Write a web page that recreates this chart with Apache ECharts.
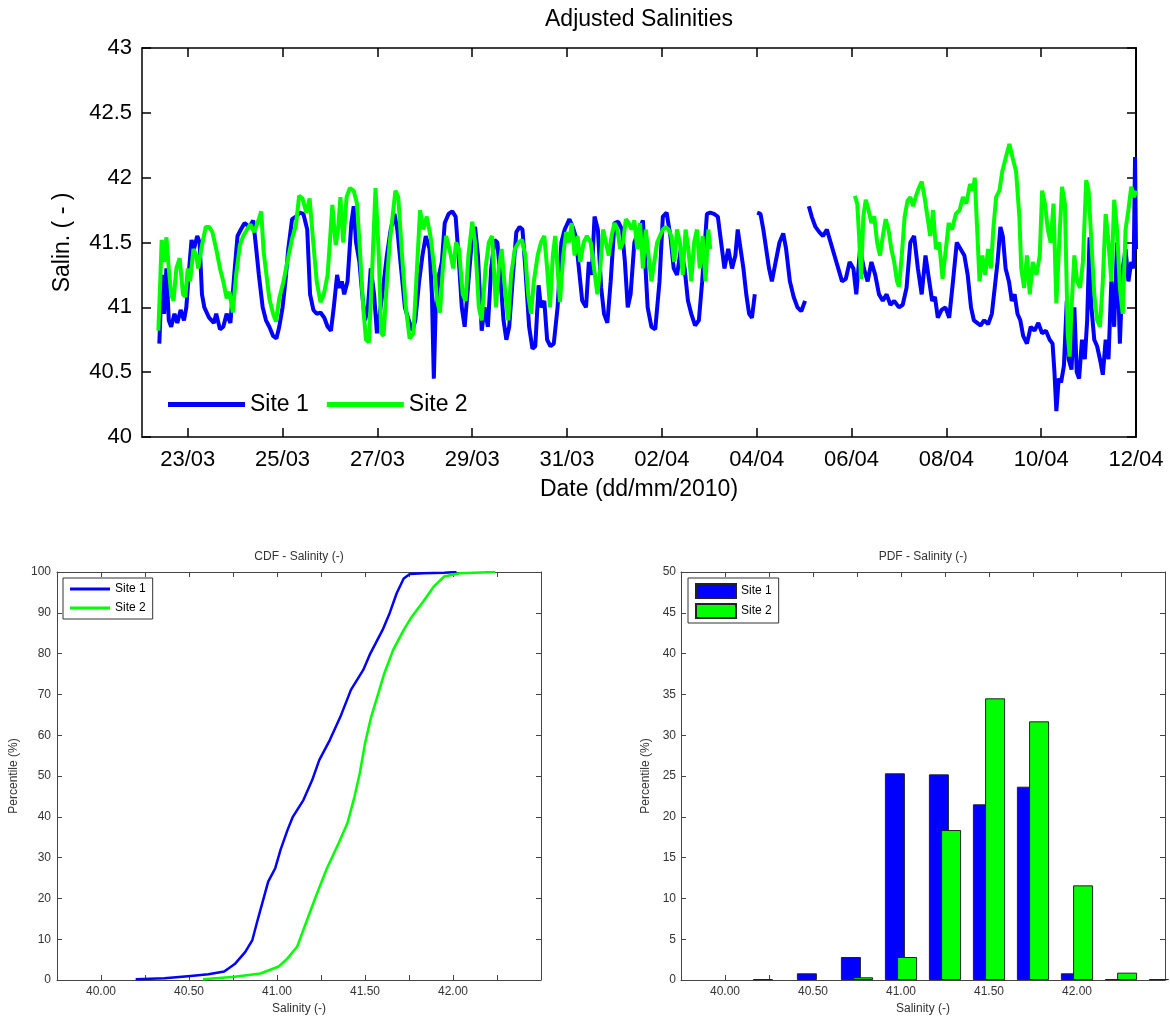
<!DOCTYPE html>
<html><head><meta charset="utf-8">
<script src="https://cdn.jsdelivr.net/npm/echarts@6/dist/echarts.min.js"></script>
<style>
html,body{margin:0;padding:0;background:#fff;overflow:hidden}
#top{position:absolute;left:0;top:0;width:1170px;height:520px}
#cdf{position:absolute;left:0;top:520px;width:585px;height:501px}
#pdf{position:absolute;left:585px;top:520px;width:585px;height:501px}
</style></head><body>
<div id="top"></div><div id="cdf"></div><div id="pdf"></div>
<script>
// ---- time series: [day of March 2010 (fractional), salinity] ----
const site1Series = [
[22.40,40.72],[22.43,41.0],[22.47,41.25],[22.50,40.95],[22.55,41.3],[22.60,40.9],[22.65,40.85],[22.72,40.95],[22.78,40.88],[22.85,40.98],[22.92,40.9],[22.97,41.0],
[23.03,41.3],[23.08,41.52],[23.13,41.45],[23.20,41.55],[23.25,41.5],[23.30,41.1],[23.35,41.0],[23.45,40.92],[23.55,40.88],[23.60,40.95],[23.68,40.83],[23.75,40.85],[23.82,40.95],[23.90,40.88],[23.98,41.25],
[24.05,41.55],[24.12,41.6],[24.20,41.65],[24.30,41.62],[24.38,41.67],[24.43,41.5],[24.50,41.25],[24.58,41.0],[24.65,40.9],[24.72,40.85],[24.80,40.78],[24.87,40.76],[24.93,40.85],
[25.00,41.0],[25.06,41.2],[25.12,41.45],[25.20,41.68],[25.28,41.7],[25.36,41.73],[25.44,41.72],[25.52,41.6],[25.58,41.1],[25.65,40.98],[25.72,40.95],[25.80,40.96],[25.88,40.92],[25.95,40.85],
[26.02,40.82],[26.08,41.0],[26.15,41.25],[26.20,41.15],[26.25,41.2],[26.30,41.1],[26.37,41.2],[26.45,41.65],[26.50,41.78],[26.55,41.5],[26.62,41.35],[26.68,41.1],[26.74,40.9],[26.80,41.0],[26.86,41.3],[26.93,41.1],[26.99,40.8],
[27.05,40.95],[27.12,41.15],[27.20,41.4],[27.28,41.6],[27.36,41.72],[27.42,41.6],[27.50,41.3],[27.58,41.0],[27.66,40.9],[27.74,40.82],[27.80,40.9],[27.88,41.2],[27.95,41.4],
[28.02,41.55],[28.10,41.45],[28.15,41.1],[28.19,40.45],[28.23,41.0],[28.30,41.25],[28.36,41.35],[28.42,41.65],[28.50,41.72],[28.58,41.74],[28.65,41.7],[28.72,41.35],[28.78,41.0],[28.84,40.85],[28.92,41.2],
[29.00,41.55],[29.06,41.62],[29.12,41.4],[29.20,40.82],[29.26,41.0],[29.33,40.85],[29.40,41.3],[29.47,41.52],[29.53,41.5],[29.60,41.2],[29.66,40.9],[29.72,40.75],[29.78,40.85],[29.86,41.25],[29.93,41.58],
[30.00,41.62],[30.06,41.6],[30.12,41.3],[30.20,40.85],[30.27,40.68],[30.33,40.7],[30.40,41.17],[30.45,41.0],[30.52,41.05],[30.58,40.75],[30.65,40.7],[30.72,40.72],[30.80,41.0],[30.88,41.5],[30.95,41.6],
[31.05,41.68],[31.12,41.62],[31.18,41.55],[31.25,41.3],[31.32,41.05],[31.40,41.0],[31.46,41.35],[31.52,41.25],[31.58,41.7],[31.65,41.6],[31.72,41.15],[31.78,40.95],[31.85,40.88],[31.92,41.2],
[32.00,41.65],[32.08,41.66],[32.16,41.6],[32.22,41.35],[32.28,41.0],[32.34,41.1],[32.42,41.5],[32.52,41.6],[32.60,41.67],[32.70,41.0],[32.78,40.85],[32.86,40.83],[32.95,41.2],
[33.02,41.7],[33.10,41.73],[33.18,41.55],[33.25,41.3],[33.32,41.25],[33.40,41.45],[33.48,41.3],[33.55,41.05],[33.62,40.95],[33.70,40.86],[33.78,40.9],[33.85,41.2],[33.95,41.72],
[34.02,41.73],[34.10,41.72],[34.18,41.7],[34.25,41.5],[34.32,41.3],[34.40,41.45],[34.48,41.3],[34.55,41.4],[34.60,41.6],[34.66,41.45],[34.72,41.3],[34.78,41.1],[34.84,40.95],[34.90,40.92],[34.96,41.1],
[34.98,'-'],
[35.01,41.73],[35.08,41.72],[35.14,41.6],[35.20,41.45],[35.26,41.3],[35.32,41.2],[35.40,41.35],[35.48,41.5],[35.56,41.57],[35.62,41.45],[35.70,41.2],[35.78,41.08],[35.86,41.0],[35.94,40.97],[36.02,41.05],
[36.06,'-'],
[36.10,41.78],[36.16,41.7],[36.24,41.62],[36.32,41.58],[36.40,41.55],[36.48,41.6],[36.56,41.5],[36.64,41.4],[36.72,41.3],[36.80,41.2],[36.88,41.22],[36.96,41.35],
[37.04,41.3],[37.10,41.1],[37.18,41.45],[37.26,41.3],[37.34,41.2],[37.42,41.35],[37.50,41.25],[37.58,41.1],[37.66,41.05],[37.74,41.1],[37.82,41.02],[37.90,41.05],
[38.00,41.0],[38.08,41.02],[38.16,41.15],[38.24,41.5],[38.32,41.55],[38.40,41.3],[38.48,41.1],[38.56,41.4],[38.64,41.2],[38.70,41.05],[38.76,41.08],[38.82,40.92],[38.90,40.98],[38.98,41.0],
[39.06,40.92],[39.14,41.2],[39.22,41.5],[39.30,41.45],[39.38,41.4],[39.45,41.25],[39.52,41.0],[39.58,40.9],[39.65,40.88],[39.72,40.86],[39.80,40.9],[39.88,40.87],[39.96,40.95],
[40.02,41.15],[40.08,41.35],[40.14,41.62],[40.19,41.55],[40.25,41.3],[40.32,41.2],[40.38,41.05],[40.44,41.1],[40.50,40.95],[40.56,40.9],[40.62,40.78],[40.70,40.72],[40.78,40.85],[40.86,40.82],[40.94,40.88],
[41.02,40.8],[41.10,40.82],[41.18,40.75],[41.24,40.72],[41.28,40.5],[41.32,40.2],[41.37,40.45],[41.42,40.42],[41.48,40.55],[41.54,41.05],[41.58,40.6],[41.64,40.52],[41.70,41.0],[41.75,40.5],[41.80,40.45],[41.86,40.75],[41.92,40.6],[41.97,40.9],
[42.02,41.54],[42.06,41.0],[42.12,40.75],[42.18,40.7],[42.24,40.6],[42.30,40.48],[42.36,40.75],[42.42,40.6],[42.48,41.2],[42.54,40.85],[42.60,41.5],[42.66,40.72],[42.72,41.3],[42.78,41.45],[42.84,41.2],[42.90,41.35],[42.95,41.3],[42.98,42.16],[43.00,41.45]
];
const site2Series = [
[22.38,40.82],[22.42,41.2],[22.45,41.52],[22.50,41.35],[22.55,41.54],[22.60,41.3],[22.65,41.1],[22.70,41.05],[22.76,41.3],[22.83,41.38],[22.90,41.1],[22.95,41.08],
[23.00,41.3],[23.05,41.2],[23.12,41.45],[23.18,41.4],[23.22,41.3],[23.30,41.48],[23.38,41.62],[23.45,41.62],[23.52,41.58],[23.60,41.45],[23.68,41.3],[23.75,41.2],[23.82,41.07],[23.88,41.12],[23.95,40.96],
[24.02,41.25],[24.10,41.48],[24.17,41.55],[24.25,41.6],[24.32,41.64],[24.40,41.58],[24.48,41.66],[24.55,41.74],[24.60,41.43],[24.66,41.25],[24.72,41.07],[24.80,40.95],[24.86,40.89],[24.93,41.07],
[25.02,41.2],[25.10,41.35],[25.20,41.53],[25.28,41.63],[25.35,41.86],[25.42,41.84],[25.50,41.73],[25.57,41.84],[25.64,41.53],[25.72,41.2],[25.80,41.04],[25.87,41.1],[25.95,41.25],
[26.05,41.79],[26.12,41.48],[26.17,41.6],[26.22,41.85],[26.28,41.5],[26.35,41.85],[26.42,41.92],[26.50,41.9],[26.57,41.8],[26.63,41.45],[26.70,41.0],[26.76,40.75],[26.82,40.73],[26.88,41.2],[26.96,41.92],
[27.03,41.4],[27.08,40.8],[27.13,40.78],[27.20,41.2],[27.26,41.5],[27.32,41.7],[27.38,41.9],[27.44,41.85],[27.52,41.4],[27.60,41.0],[27.68,40.76],[27.76,40.8],[27.82,41.2],[27.90,41.75],[27.97,41.6],
[28.04,41.7],[28.12,41.55],[28.20,41.3],[28.26,41.05],[28.32,40.96],[28.38,41.3],[28.45,41.55],[28.52,41.45],[28.60,41.3],[28.66,41.5],[28.72,41.45],[28.80,41.1],[28.86,41.05],[28.92,41.4],
[29.00,41.66],[29.06,41.5],[29.14,41.0],[29.20,40.9],[29.28,41.3],[29.35,41.5],[29.42,41.55],[29.50,41.0],[29.56,41.3],[29.62,41.45],[29.70,41.1],[29.76,40.9],[29.82,41.25],[29.90,41.45],[29.98,41.5],
[30.05,41.52],[30.12,41.4],[30.18,41.1],[30.24,40.95],[30.30,41.2],[30.38,41.4],[30.45,41.5],[30.52,41.55],[30.58,41.3],[30.64,41.0],[30.70,41.4],[30.75,41.55],[30.80,41.3],[30.85,41.04],[30.92,41.4],[30.98,41.58],
[31.04,41.5],[31.10,41.65],[31.16,41.4],[31.22,41.55],[31.28,41.35],[31.35,41.5],[31.42,41.55],[31.50,41.5],[31.57,41.3],[31.64,41.1],[31.70,41.3],[31.76,41.6],[31.82,41.5],[31.88,41.4],[31.94,41.55],
[32.00,41.65],[32.06,41.6],[32.12,41.45],[32.18,41.5],[32.24,41.68],[32.30,41.65],[32.36,41.6],[32.42,41.67],[32.48,41.45],[32.54,41.65],[32.60,41.3],[32.66,41.6],[32.72,41.4],[32.78,41.2],[32.84,41.35],[32.90,41.5],[32.96,41.55],
[33.02,41.6],[33.08,41.62],[33.14,41.6],[33.20,41.55],[33.26,41.35],[33.32,41.6],[33.38,41.5],[33.44,41.25],[33.50,41.6],[33.56,41.45],[33.62,41.2],[33.68,41.5],[33.74,41.6],[33.80,41.3],[33.86,41.55],[33.92,41.2],[33.98,41.6],[34.02,41.45],
[34.05,'-'],
[37.07,41.86],[37.12,41.8],[37.16,41.55],[37.20,41.22],[37.25,41.7],[37.30,41.83],[37.36,41.75],[37.42,41.65],[37.48,41.7],[37.54,41.5],[37.60,41.4],[37.66,41.55],[37.72,41.68],[37.78,41.6],[37.84,41.45],[37.90,41.35],[37.96,41.2],
[38.00,41.16],[38.06,41.4],[38.12,41.7],[38.18,41.82],[38.24,41.85],[38.30,41.78],[38.36,41.86],[38.42,41.92],[38.48,41.97],[38.54,41.85],[38.60,41.7],[38.66,41.55],[38.72,41.75],[38.78,41.45],[38.85,41.5],[38.92,41.22],[38.99,41.45],
[39.05,41.65],[39.12,41.6],[39.20,41.72],[39.28,41.75],[39.35,41.85],[39.42,41.8],[39.50,41.95],[39.56,41.9],[39.60,42.0],[39.65,41.6],[39.70,41.2],[39.76,41.4],[39.82,41.25],[39.88,41.45],[39.94,41.3],[39.99,41.6],
[40.05,41.85],[40.12,41.9],[40.18,42.05],[40.25,42.15],[40.33,42.26],[40.40,42.15],[40.47,42.05],[40.54,41.7],[40.58,41.3],[40.64,41.15],[40.70,41.4],[40.76,41.1],[40.82,41.35],[40.90,41.25],[40.97,41.4],
[41.02,41.9],[41.08,41.8],[41.14,41.6],[41.20,41.5],[41.26,41.8],[41.32,41.03],[41.38,41.5],[41.44,41.93],[41.50,41.8],[41.56,40.8],[41.60,40.62],[41.64,41.0],[41.70,41.4],[41.76,41.2],[41.82,41.15],[41.88,41.35],[41.95,41.98],
[42.00,41.9],[42.06,41.5],[42.12,41.1],[42.18,40.9],[42.24,40.85],[42.30,41.2],[42.36,41.72],[42.42,41.5],[42.48,41.2],[42.54,41.83],[42.60,41.6],[42.66,41.15],[42.72,40.95],[42.78,41.6],[42.84,41.75],[42.90,41.93],[42.96,41.85],[43.00,41.9]
];
const dateTickDays = [23,25,27,29,31,33,35,37,39,41,43];
const dateTickLabels = ['23/03','25/03','27/03','29/03','31/03','02/04','04/04','06/04','08/04','10/04','12/04'];

// ---- CDF: [salinity, percentile] ----
const cdfSite1 = [[40.197,0.16],[40.36,0.4],[40.51,1.0],[40.61,1.4],[40.70,2.1],[40.76,3.9],[40.82,6.9],[40.86,9.8],[40.885,13.9],[40.916,18.8],[40.95,24.1],[40.99,27.4],[41.02,31.9],[41.06,36.8],[41.09,40],[41.15,44.1],[41.20,49],[41.24,53.9],[41.30,58.8],[41.36,64.5],[41.42,71.1],[41.49,76],[41.53,80],[41.60,85.8],[41.64,89.9],[41.68,94.8],[41.72,98.4],[41.755,99.5],[41.83,99.7],[41.95,99.8],[42.02,100]];
const cdfSite2 = [[40.58,0.16],[40.76,0.8],[40.906,1.6],[41.01,3.3],[41.06,5.3],[41.115,8.2],[41.157,13.1],[41.22,20.4],[41.28,27],[41.35,33.5],[41.40,38.4],[41.44,44.9],[41.47,50.6],[41.50,58],[41.535,64.5],[41.576,70.3],[41.61,75.2],[41.66,80.9],[41.72,85.8],[41.765,89],[41.83,92.7],[41.89,96.4],[41.95,98.9],[42.04,99.7],[42.24,100]];

// ---- PDF ----
const binCenters = [40.25,40.5,40.75,41.0,41.25,41.5,41.75,42.0,42.25,42.5];
const pdfSite1 = [0.1,0.82,2.82,25.33,25.2,21.53,23.69,0.82,0.1,0.1];
const pdfSite2 = [0,0,0.33,2.82,18.38,34.52,31.7,11.6,0.9,0];
const salinityLabelTicks = [40,40.5,41,41.5,42];

const FONT = '"Liberation Sans", Arial, sans-serif';
const BLUE = '#0000ff', GREEN = '#00ff00';

// ================= top chart =================
function dateLabel(v){
  for (let i=0;i<dateTickDays.length;i++) if (Math.abs(dateTickDays[i]-v)<1e-6) return dateTickLabels[i];
  return '';
}
const topAxisLine = {show:true, onZero:false, lineStyle:{color:'#000', width:1.5}};
const topTickX = {show:true, inside:true, length:9, customValues:dateTickDays, lineStyle:{color:'#000', width:1.5}};
const topTickY = {show:true, inside:true, length:9, lineStyle:{color:'#000', width:1.5}};
const topChart = echarts.init(document.getElementById('top'));
topChart.setOption({
  animation:false,
  title:{text:'Adjusted Salinities', left:639, top:8, padding:0, textAlign:'center',
    textStyle:{fontFamily:FONT, fontSize:23, fontWeight:'normal', color:'#000'}},
  grid:{left:142, top:48, width:994, height:389},
  legend:{left:168, top:393, padding:0, itemWidth:77, itemHeight:5, itemGap:18, icon:'rect',
    textStyle:{fontFamily:FONT, fontSize:23, color:'#000'}, data:['Site 1','Site 2']},
  xAxis:[
    {type:'value', min:22.035, max:43, name:'Date (dd/mm/2010)', nameLocation:'middle', nameGap:41,
     nameTextStyle:{fontFamily:FONT, fontSize:23, color:'#000'},
     axisLine:topAxisLine, axisTick:topTickX,
     axisLabel:{customValues:dateTickDays, formatter:dateLabel, margin:12, fontFamily:FONT, fontSize:22, color:'#000'},
     splitLine:{show:false}},
    {type:'value', position:'top', min:22.035, max:43, axisLine:topAxisLine, axisTick:topTickX,
     axisLabel:{show:false}, splitLine:{show:false}}
  ],
  yAxis:[
    {type:'value', min:40, max:43, interval:0.5, name:'Salin. ( - )', nameLocation:'middle', nameGap:68,
     nameTextStyle:{fontFamily:FONT, fontSize:23, color:'#000'},
     axisLine:topAxisLine, axisTick:topTickY,
     axisLabel:{margin:10, fontFamily:FONT, fontSize:22, color:'#000'}, splitLine:{show:false}},
    {type:'value', position:'right', min:40, max:43, interval:0.5, axisLine:{show:true, onZero:false, lineStyle:{color:'#000', width:2}},
     axisTick:topTickY, axisLabel:{show:false}, splitLine:{show:false}}
  ],
  series:[
    {name:'Site 1', type:'line', data:site1Series, showSymbol:false, symbol:'none',
     lineStyle:{color:BLUE, width:4}, itemStyle:{color:BLUE}},
    {name:'Site 2', type:'line', data:site2Series, showSymbol:false, symbol:'none',
     lineStyle:{color:GREEN, width:4}, itemStyle:{color:GREEN}}
  ]
});

// ================= bottom charts shared =================
const GRAY = '#333';
const bAxisLine = {show:true, onZero:false, lineStyle:{color:'#444', width:1}};
const bTick = {show:true, inside:true, length:5, lineStyle:{color:'#444', width:1}};
function salX(extra){
  return Object.assign({type:'value', min:39.75, max:42.5, interval:0.25, axisLine:bAxisLine, axisTick:bTick,
    splitLine:{show:false}}, extra);
}
const xMain = {name:'Salinity (-)', nameLocation:'middle', nameGap:22,
  nameTextStyle:{fontFamily:FONT, fontSize:12, color:GRAY},
  axisLabel:{customValues:salinityLabelTicks, formatter:v=>v.toFixed(2), margin:6, fontFamily:FONT, fontSize:12, color:GRAY}};

// CDF
const cdfChart = echarts.init(document.getElementById('cdf'));
cdfChart.setOption({
  animation:false,
  title:{text:'CDF - Salinity (-)', left:299, top:31, padding:0, textAlign:'center',
    textStyle:{fontFamily:FONT, fontSize:12, fontWeight:'normal', color:GRAY}},
  grid:{left:57, top:52, width:484, height:408},
  legend:{orient:'vertical', left:63, top:58, padding:[5,7,5,7], itemWidth:40, itemHeight:3, itemGap:7, icon:'rect',
    borderColor:'#333', borderWidth:1, backgroundColor:'#fff',
    textStyle:{fontFamily:FONT, fontSize:12, color:'#000'}, data:['Site 1','Site 2']},
  xAxis:[salX(xMain), salX({position:'top', axisLabel:{show:false}})],
  yAxis:[
    {type:'value', min:0, max:100, interval:10, name:'Percentile (%)', nameLocation:'middle', nameGap:33,
     nameTextStyle:{fontFamily:FONT, fontSize:12, color:GRAY}, axisLine:bAxisLine, axisTick:bTick,
     axisLabel:{margin:6, fontFamily:FONT, fontSize:12, color:GRAY}, splitLine:{show:false}},
    {type:'value', position:'right', min:0, max:100, interval:10, axisLine:bAxisLine, axisTick:bTick,
     axisLabel:{show:false}, splitLine:{show:false}}
  ],
  series:[
    {name:'Site 1', type:'line', data:cdfSite1, showSymbol:false, symbol:'none', lineStyle:{color:BLUE, width:2.5}, itemStyle:{color:BLUE}},
    {name:'Site 2', type:'line', data:cdfSite2, showSymbol:false, symbol:'none', lineStyle:{color:GREEN, width:2.5}, itemStyle:{color:GREEN}}
  ]
});

// PDF
const pdfChart = echarts.init(document.getElementById('pdf'));
const toBars = arr => binCenters.map((c,i)=>[c, arr[i] > 0 ? arr[i] : '-']);
pdfChart.setOption({
  animation:false,
  title:{text:'PDF - Salinity (-)', left:338, top:31, padding:0, textAlign:'center',
    textStyle:{fontFamily:FONT, fontSize:12, fontWeight:'normal', color:GRAY}},
  grid:{left:96, top:52, width:484, height:408},
  legend:{orient:'vertical', left:103, top:58, padding:[5,7,4,7], itemWidth:40, itemHeight:14, itemGap:4, icon:'rect',
    borderColor:'#333', borderWidth:1, backgroundColor:'#fff',
    textStyle:{fontFamily:FONT, fontSize:12, color:'#000'}, data:['Site 1','Site 2']},
  xAxis:[salX(xMain), salX({position:'top', axisLabel:{show:false}})],
  yAxis:[
    {type:'value', min:0, max:50, interval:5, name:'Percentile (%)', nameLocation:'middle', nameGap:24,
     nameTextStyle:{fontFamily:FONT, fontSize:12, color:GRAY}, axisLine:bAxisLine, axisTick:bTick,
     axisLabel:{margin:5, fontFamily:FONT, fontSize:12, color:GRAY}, splitLine:{show:false}},
    {type:'value', position:'right', min:0, max:50, interval:5, axisLine:bAxisLine, axisTick:bTick,
     axisLabel:{show:false}, splitLine:{show:false}}
  ],
  series:[
    {name:'Site 1', type:'bar', data:toBars(pdfSite1), barWidth:20, barGap:'-39%', clip:true,
     itemStyle:{color:BLUE, borderColor:'#222', borderWidth:1}},
    {name:'Site 2', type:'bar', data:toBars(pdfSite2), barWidth:20, barGap:'-39%', clip:true,
     itemStyle:{color:GREEN, borderColor:'#222', borderWidth:1}}
  ]
});
</script>
</body></html>
